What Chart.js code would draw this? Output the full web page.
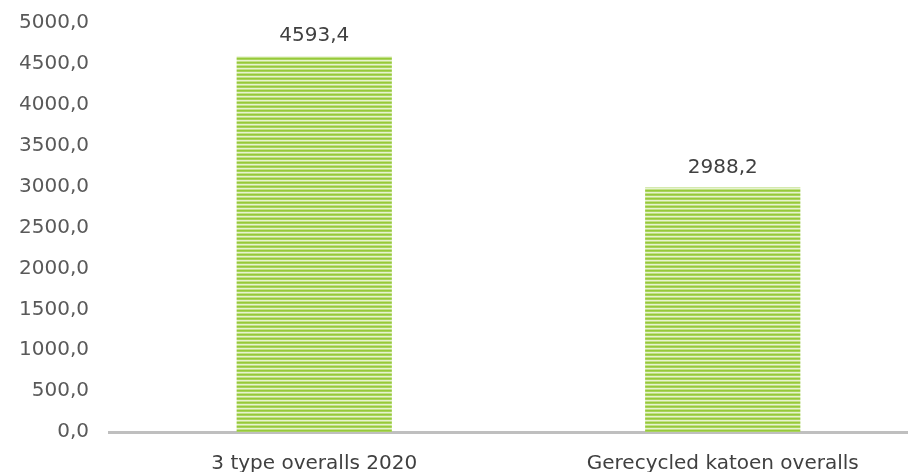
<!DOCTYPE html>
<html>
<head>
<meta charset="utf-8">
<script src="https://cdn.jsdelivr.net/npm/chart.js@4/dist/chart.umd.min.js"></script>
<style>
  html, body { margin: 0; padding: 0; background: #fff; overflow: hidden; }
  #wrap { position: absolute; left: -2px; top: -10px; width: 929px; height: 506px; }
</style>
</head>
<body>
<div id="wrap"><canvas id="chart" width="929" height="506"></canvas></div>
<script>
// data
const categories = ['3 type overalls 2020', 'Gerecycled katoen overalls'];
const values = [4593.4, 2988.2];
const yTicks = [0, 500, 1000, 1500, 2000, 2500, 3000, 3500, 4000, 4500, 5000];

const fontFamily = '"DejaVu Sans", sans-serif';

function fmt(v) {
    return v.toFixed(1).replace('.', ',');
}

// striped green fill like the original bars
function makeStripes() {
    const c = document.createElement('canvas');
    c.width = 4;
    c.height = 4;
    const g = c.getContext('2d');
    const rows = ['#96c93a', '#a9d35c', '#e6f3d0', '#c2e186'];
    rows.forEach((col, i) => {
        g.fillStyle = col;
        g.fillRect(0, i, 4, 1);
    });
    return g.createPattern(c, 'repeat');
}

// draws the value above each bar
const valueLabels = {
    id: 'valueLabels',
    afterDatasetsDraw(chart) {
        const ctx = chart.ctx;
        const meta = chart.getDatasetMeta(0);
        ctx.save();
        ctx.font = '20px ' + fontFamily;
        ctx.fillStyle = '#404040';
        ctx.textAlign = 'center';
        ctx.textBaseline = 'middle';
        meta.data.forEach((bar, i) => {
            ctx.fillText(fmt(values[i]), bar.x, bar.y - 20);
        });
        ctx.restore();
    }
};

const ctx = document.getElementById('chart').getContext('2d');
new Chart(ctx, {
    type: 'bar',
    data: {
        labels: categories,
        datasets: [{
            data: values,
            backgroundColor: makeStripes(),
            borderWidth: 0,
            barPercentage: 0.38,
            categoryPercentage: 1
        }]
    },
    options: {
        responsive: false,
        animation: false,
        layout: { padding: { left: 0, top: 0, right: 0, bottom: 0 } },
        plugins: {
            legend: { display: false },
            tooltip: { enabled: false }
        },
        scales: {
            y: {
                min: 0,
                max: 5000,
                afterBuildTicks: (axis) => {
                    axis.ticks = yTicks.map(v => ({ value: v }));
                },
                grid: { display: false, drawTicks: false },
                border: { display: false },
                ticks: {
                    padding: 21,
                    color: '#595959',
                    font: { family: fontFamily, size: 20 },
                    callback: (v) => fmt(v)
                }
            },
            x: {
                grid: { display: false, drawTicks: false },
                border: { display: true, color: '#bfbfbf', width: 3 },
                ticks: {
                    padding: 20,
                    color: '#404040',
                    maxRotation: 0,
                    font: { family: fontFamily, size: 20 }
                }
            }
        }
    },
    plugins: [valueLabels]
});
</script>
</body>
</html>
